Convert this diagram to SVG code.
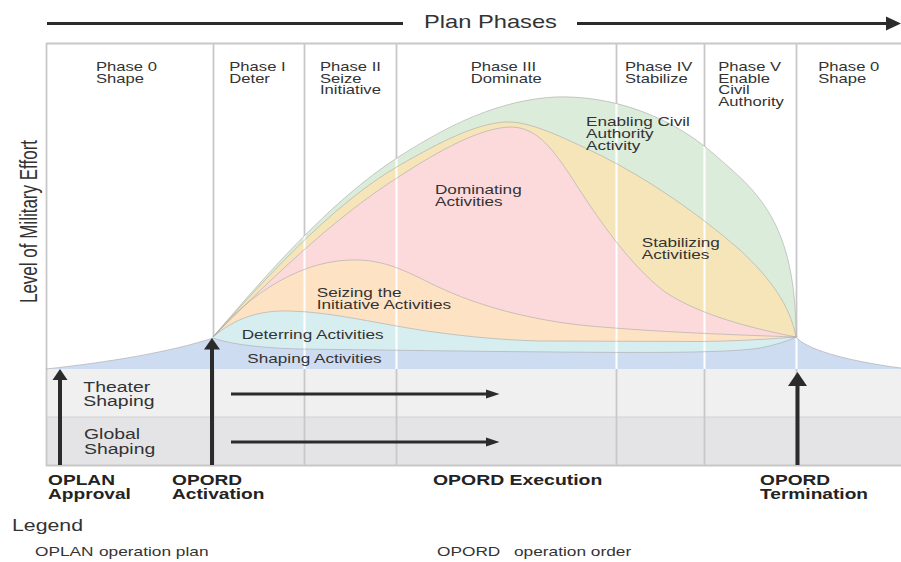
<svg xmlns="http://www.w3.org/2000/svg" width="901" height="562" viewBox="0 0 901 562">
<defs>
<style>
.t{font-family:"Liberation Sans",Arial,sans-serif;fill:#333333;}
.ph{font-size:13.5px;}
.act{font-size:13.5px;}
.band{font-size:14.5px;}
.ms{font-size:14.5px;font-weight:bold;fill:#232323;}
.div{stroke:#c8c8c8;stroke-width:1.8;fill:none;}
.wdiv{stroke:#ffffff;stroke-width:2;fill:none;}
.edge{fill:none;stroke:#a8a8a8;stroke-width:0.6;}
.arr{fill:#2b2b2b;}
.shaft{stroke:#2b2b2b;stroke-width:4;}
.hshaft{stroke:#2b2b2b;stroke-width:3;}
</style>
<clipPath id="colorClip">
<path d="M213,337 C260,282 330,200 400,156 C450,124 500,100 555,97 C610,95 670,115 715,155 C755,190 796,220 796,337 L796,369 L213,369 Z"/>
<path d="M46,369 C110,362 170,352 213,338 C230,344 260,348 300,349 L500,351.5 C620,352.5 720,354 760,348 C775,345 788,341 796,337 C805,348 840,360 901,368 L901,369 Z"/>
</clipPath>
</defs>
<rect width="901" height="562" fill="#ffffff"/>

<g id="bands">
<rect x="46.5" y="369" width="855" height="48" fill="#f0f0f0"/>
<rect x="46.5" y="417" width="855" height="48" fill="#e4e4e6"/>
<line x1="46.5" y1="417" x2="901" y2="417" stroke="#d2d2d2" stroke-width="1"/>
</g>

<g id="frame">
<line class="div" x1="46" y1="43.5" x2="901" y2="43.5"/>
<line class="div" x1="46.5" y1="43" x2="46.5" y2="466"/>
<line class="div" x1="46" y1="465.5" x2="901" y2="465.5"/>
<line class="div" x1="213.5" y1="43" x2="213.5" y2="466"/>
<line class="div" x1="304.5" y1="43" x2="304.5" y2="466"/>
<line class="div" x1="396.5" y1="43" x2="396.5" y2="466"/>
<line class="div" x1="616.5" y1="43" x2="616.5" y2="466"/>
<line class="div" x1="704.5" y1="43" x2="704.5" y2="466"/>
<line class="div" x1="796.5" y1="43" x2="796.5" y2="466"/>
</g>

<g id="enabling-civil-authority">
<path fill="#dcecdb" d="M213,337 C260,282 330,200 400,156 C450,124 500,100 555,97 C610,95 670,115 715,155 C755,190 796,220 796,337 L796,369 L213,369 Z"/>
</g>
<g id="stabilizing">
<path fill="#f5e5b9" d="M213,337 C260,285 330,205 400,165 C440,142 475,124 505,122 C530,121 560,136 600,155 C650,180 700,215 740,250 C770,278 790,305 796,337 L796,369 L213,369 Z"/>
</g>
<g id="dominating">
<path fill="#fcdadc" d="M213,337 C260,290 330,220 400,176 C440,150 480,128 510,127 C535,127 550,145 570,175 C600,222 630,265 665,292 C700,315 750,328 796,337 L796,369 L213,369 Z"/>
</g>
<g id="seizing">
<path fill="#fde2c3" d="M213,337 C240,305 290,262 350,260 C380,259 400,268 430,283 C470,303 520,318 580,325 C650,332 740,335 796,337 L796,369 L213,369 Z"/>
</g>
<g id="deterring">
<path fill="#d7eef0" d="M213,337 C235,318 260,310 290,311 C330,312 370,322 420,330 C460,336 500,340 540,341 L700,341.5 C740,341 770,339 796,337 L796,369 L213,369 Z"/>
</g>
<g id="shaping">
<path fill="#cedcf1" d="M46,369 C110,362 170,352 213,338 C230,344 260,348 300,349 L500,351.5 C620,352.5 720,354 760,348 C775,345 788,341 796,337 C805,348 840,360 901,368 L901,369 Z"/>
</g>

<g id="white-dividers" clip-path="url(#colorClip)">
<line class="wdiv" x1="304.5" y1="43" x2="304.5" y2="369"/>
<line class="wdiv" x1="396.5" y1="43" x2="396.5" y2="369"/>
<line class="wdiv" x1="616.5" y1="43" x2="616.5" y2="369"/>
<line class="wdiv" x1="704.5" y1="43" x2="704.5" y2="369"/>
<line class="wdiv" x1="796.5" y1="337" x2="796.5" y2="369"/>
</g>

<g id="edges">
<path class="edge" d="M213,337 C260,282 330,200 400,156 C450,124 500,100 555,97 C610,95 670,115 715,155 C755,190 796,220 796,337"/>
<path class="edge" d="M213,337 C260,285 330,205 400,165 C440,142 475,124 505,122 C530,121 560,136 600,155 C650,180 700,215 740,250 C770,278 790,305 796,337"/>
<path class="edge" d="M213,337 C260,290 330,220 400,176 C440,150 480,128 510,127 C535,127 550,145 570,175 C600,222 630,265 665,292 C700,315 750,328 796,337"/>
<path class="edge" d="M213,337 C240,305 290,262 350,260 C380,259 400,268 430,283 C470,303 520,318 580,325 C650,332 740,335 796,337"/>
<path class="edge" d="M213,337 C235,318 260,310 290,311 C330,312 370,322 420,330 C460,336 500,340 540,341 L700,341.5 C740,341 770,339 796,337"/>
<path class="edge" d="M46,369 C110,362 170,352 213,338 C230,344 260,348 300,349 L500,351.5 C620,352.5 720,354 760,348 C775,345 788,341 796,337 C805,348 840,360 901,368"/>
</g>

<g id="plan-phases">
<text class="t" font-size="18.5" transform="translate(424,28.3) scale(1.28,1)">Plan Phases</text>
</g>

<g id="y-axis-label">
<text class="t" font-size="17" text-anchor="middle" transform="translate(37,221.5) scale(1.4,1) rotate(-90)">Level of Military Effort</text>
</g>

<g id="phase-0-shape"><text class="t ph" transform="translate(96,71) scale(1.23,1)"><tspan x="0">Phase 0</tspan><tspan x="0" dy="11.7">Shape</tspan></text></g>
<g id="phase-1-deter"><text class="t ph" transform="translate(229.3,71) scale(1.23,1)"><tspan x="0">Phase I</tspan><tspan x="0" dy="11.7">Deter</tspan></text></g>
<g id="phase-2-seize"><text class="t ph" transform="translate(320,71) scale(1.23,1)"><tspan x="0">Phase II</tspan><tspan x="0" dy="11.7">Seize</tspan><tspan x="0" dy="11.7">Initiative</tspan></text></g>
<g id="phase-3-dominate"><text class="t ph" transform="translate(470.7,71) scale(1.23,1)"><tspan x="0">Phase III</tspan><tspan x="0" dy="11.7">Dominate</tspan></text></g>
<g id="phase-4-stabilize"><text class="t ph" transform="translate(625,71) scale(1.23,1)"><tspan x="0">Phase IV</tspan><tspan x="0" dy="11.7">Stabilize</tspan></text></g>
<g id="phase-5-enable"><text class="t ph" transform="translate(718.3,71) scale(1.23,1)"><tspan x="0">Phase V</tspan><tspan x="0" dy="11.7">Enable</tspan><tspan x="0" dy="11.7">Civil</tspan><tspan x="0" dy="11.7">Authority</tspan></text></g>
<g id="phase-0-shape-end"><text class="t ph" transform="translate(818.3,71) scale(1.23,1)"><tspan x="0">Phase 0</tspan><tspan x="0" dy="11.7">Shape</tspan></text></g>

<g id="label-enabling"><text class="t act" transform="translate(586,126) scale(1.27,1)"><tspan x="0">Enabling Civil</tspan><tspan x="0" dy="12">Authority</tspan><tspan x="0" dy="12">Activity</tspan></text></g>
<g id="label-dominating"><text class="t act" transform="translate(435,194) scale(1.27,1)"><tspan x="0">Dominating</tspan><tspan x="0" dy="12">Activities</tspan></text></g>
<g id="label-stabilizing"><text class="t act" transform="translate(641.7,247) scale(1.27,1)"><tspan x="0">Stabilizing</tspan><tspan x="0" dy="12.2">Activities</tspan></text></g>
<g id="label-seizing"><text class="t act" transform="translate(316.7,297) scale(1.27,1)"><tspan x="0">Seizing the</tspan><tspan x="0" dy="12.2">Initiative Activities</tspan></text></g>
<g id="label-deterring"><text class="t act" transform="translate(241.7,339.3) scale(1.27,1)">Deterring Activities</text></g>
<g id="label-shaping"><text class="t act" transform="translate(247.3,362.7) scale(1.27,1)">Shaping Activities</text></g>

<g id="theater-shaping"><text class="t band" transform="translate(83.3,391.7) scale(1.34,1)"><tspan x="0">Theater</tspan><tspan x="0" dy="14.4">Shaping</tspan></text></g>
<g id="global-shaping"><text class="t band" transform="translate(84,439.3) scale(1.34,1)"><tspan x="0">Global</tspan><tspan x="0" dy="14.6">Shaping</tspan></text></g>

<g id="connectors">
<line class="hshaft" x1="47" y1="23.5" x2="403" y2="23.5"/>
<line class="hshaft" x1="577" y1="23.5" x2="888" y2="23.5"/>
<polygon class="arr" points="886,16.5 901,23.5 886,30.5"/>
<line class="hshaft" x1="231" y1="394" x2="488" y2="394"/>
<polygon class="arr" points="486,389.5 499.5,394 486,398.5"/>
<line class="hshaft" x1="231" y1="442" x2="488" y2="442"/>
<polygon class="arr" points="486,437.5 499.5,442 486,446.5"/>
</g>

<g id="oplan-approval">
<line class="shaft" x1="60" y1="465" x2="60" y2="379"/>
<polygon class="arr" points="52.5,380 60,369 67.5,380"/>
<text class="t ms" transform="translate(48,485) scale(1.32,1)"><tspan x="0">OPLAN</tspan><tspan x="0" dy="14.5">Approval</tspan></text>
</g>
<g id="opord-activation">
<line class="shaft" x1="212" y1="465" x2="212" y2="348"/>
<polygon class="arr" points="204,349.5 212,338 220,349.5"/>
<text class="t ms" transform="translate(172,485) scale(1.32,1)"><tspan x="0">OPORD</tspan><tspan x="0" dy="14.5">Activation</tspan></text>
</g>
<g id="opord-execution">
<text class="t ms" transform="translate(433,485) scale(1.34,1)">OPORD Execution</text>
</g>
<g id="opord-termination">
<line class="shaft" x1="797.5" y1="465" x2="797.5" y2="385"/>
<polygon class="arr" points="788,386 797.5,372 807,386"/>
<text class="t ms" transform="translate(760,485) scale(1.32,1)"><tspan x="0">OPORD</tspan><tspan x="0" dy="14.5">Termination</tspan></text>
</g>

<g id="legend">
<text class="t" font-size="16" transform="translate(12,531) scale(1.33,1)">Legend</text>
<text class="t" font-size="13" transform="translate(35,556) scale(1.33,1)">OPLAN</text>
<text class="t" font-size="13" transform="translate(99,556) scale(1.33,1)">operation plan</text>
<text class="t" font-size="13" transform="translate(437,556) scale(1.33,1)">OPORD</text>
<text class="t" font-size="13" transform="translate(514,556) scale(1.33,1)">operation order</text>
</g>
</svg>
